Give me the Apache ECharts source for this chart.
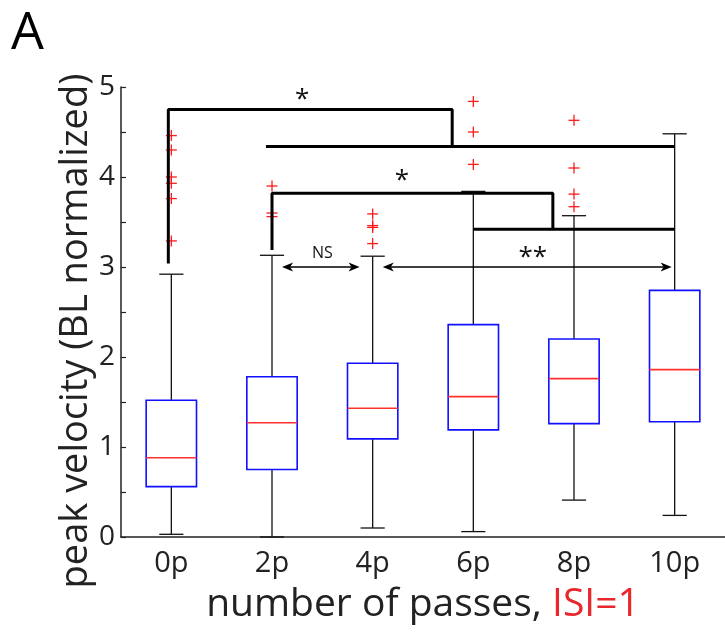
<!DOCTYPE html>
<html>
<head>
<meta charset="utf-8">
<script src="https://cdn.jsdelivr.net/npm/echarts@6/dist/echarts.min.js"></script>
<style>html,body{margin:0;padding:0;background:#fff}#c{width:725px;height:643px}</style>
</head>
<body>
<div id="c"></div>
<script>
// ---- data ----
const categories = ['0p', '2p', '4p', '6p', '8p', '10p'];
const boxMin    = [0.03, 0.00, 0.10, 0.06, 0.41, 0.24];
const boxQ1     = [0.56, 0.75, 1.09, 1.19, 1.26, 1.28];
const boxMedian = [0.88, 1.27, 1.43, 1.56, 1.76, 1.86];
const boxQ3     = [1.52, 1.78, 1.93, 2.36, 2.20, 2.74];
const boxMax    = [2.92, 3.13, 3.12, 3.84, 3.57, 4.48];
const outliers0 = [4.46, 4.30, 4.00, 3.93, 3.76, 3.29];
const outliers2 = [3.90, 3.60, 3.56];
const outliers4 = [3.59, 3.46, 3.44, 3.26];
const outliers6 = [4.84, 4.50, 4.14];
const outliers8 = [4.63, 4.10, 3.81, 3.67];
const outliers10 = [];
const yTickLabels = ['0', '1', '2', '3', '4', '5'];
// significance brackets (category index, value)
const bracketA = [[-0.03, 3.04], [-0.03, 4.75], [2.79, 4.75], [2.79, 4.34]];
const bracketB = [[0.94, 4.34], [5.0, 4.34]];
const bracketC = [[1.0, 3.19], [1.0, 3.82], [3.79, 3.82], [3.79, 3.42]];
const bracketD = [[3.0, 3.42], [5.0, 3.42]];
const arrowNS = [1.10, 1.87, 3.0];
const arrowSS = [2.10, 4.97, 3.0];
const annotations = [['*', 1.30, 4.86], ['*', 2.29, 3.96], ['NS', 1.50, 3.15], ['**', 3.59, 3.10]];

// ---- build ----
const outlierLists = [outliers0, outliers2, outliers4, outliers6, outliers8, outliers10];
const boxData = categories.map((c, i) => [i, boxMin[i], boxQ1[i], boxMedian[i], boxQ3[i], boxMax[i]]);
const outlierData = [];
outlierLists.forEach((arr, i) => arr.forEach(v => outlierData.push([i, v])));
const FONT = 'Open Sans';

const chart = echarts.init(document.getElementById('c'), null, {renderer: 'canvas'});

function bracketSeries(pts) {
  return {
    type: 'line', xAxisIndex: 1, data: pts, symbol: 'none', silent: true,
    lineStyle: {color: '#000', width: 3}, z: 5, animation: false
  };
}

const option = {
  animation: false,
  backgroundColor: '#fff',
  title: {text: 'A', left: 6, top: 3, textStyle: {fontFamily: FONT, fontSize: 52, fontWeight: 'normal', color: '#000'}},
  grid: {left: 121, right: 0, top: 87, bottom: 106},
  xAxis: [{
    type: 'category', data: categories, boundaryGap: true,
    axisLine: {onZero: false, lineStyle: {color: '#222', width: 1.5}},
    axisTick: {show: false},
    axisLabel: {fontFamily: FONT, fontSize: 29, color: '#222', margin: 12},
    name: '{a|number of passes, }{b|ISI=1}',
    nameLocation: 'middle', nameGap: 48,
    nameTextStyle: {rich: {
      a: {fontFamily: FONT, fontSize: 39, color: '#222'},
      b: {fontFamily: FONT, fontSize: 39, color: '#e8262b'}
    }}
  }, {
    type: 'value', min: -0.5, max: 5.5, show: false
  }],
  yAxis: {
    type: 'value', min: 0, max: 5, interval: 0.5,
    splitLine: {show: false},
    axisLine: {show: true, onZero: false, lineStyle: {color: '#222', width: 1.5}},
    axisTick: {show: true, inside: true, length: 5, lineStyle: {color: '#222', width: 1.2}},
    axisLabel: {fontFamily: FONT, fontSize: 28, color: '#222', margin: 6,
      formatter: v => (Math.abs(v - Math.round(v)) < 1e-6 ? yTickLabels[Math.round(v)] : '')},
    name: 'peak velocity (BL normalized)', nameLocation: 'middle', nameRotate: 90, nameGap: 26,
    nameMoveOverlap: false,
    nameTextStyle: {fontFamily: FONT, fontSize: 38, color: '#222', padding: [0, 38, 0, 0]}
  },
  series: [
    {
      type: 'custom', xAxisIndex: 1, data: boxData, z: 3,
      renderItem: (params, api) => {
        const x = api.value(0);
        const unit = api.size([1, 0])[0];
        const hw = unit * 0.25, cw = unit * 0.12;
        const pMin = api.coord([x, api.value(1)]);
        const pQ1 = api.coord([x, api.value(2)]);
        const pMed = api.coord([x, api.value(3)]);
        const pQ3 = api.coord([x, api.value(4)]);
        const pMax = api.coord([x, api.value(5)]);
        const blk = {stroke: '#111', lineWidth: 1.3};
        return {type: 'group', children: [
          {type: 'line', shape: {x1: pMin[0], y1: pMin[1], x2: pQ1[0], y2: pQ1[1]}, style: blk},
          {type: 'line', shape: {x1: pQ3[0], y1: pQ3[1], x2: pMax[0], y2: pMax[1]}, style: blk},
          {type: 'line', shape: {x1: pMin[0] - cw, y1: pMin[1], x2: pMin[0] + cw, y2: pMin[1]}, style: blk},
          {type: 'line', shape: {x1: pMax[0] - cw, y1: pMax[1], x2: pMax[0] + cw, y2: pMax[1]}, style: blk},
          {type: 'rect', shape: {x: pQ3[0] - hw, y: pQ3[1], width: hw * 2, height: pQ1[1] - pQ3[1]},
            style: {fill: 'none', stroke: '#1010ff', lineWidth: 1.6}},
          {type: 'line', shape: {x1: pMed[0] - hw, y1: pMed[1], x2: pMed[0] + hw, y2: pMed[1]},
            style: {stroke: '#ff3030', lineWidth: 1.6}}
        ]};
      }
    },
    {
      type: 'custom', xAxisIndex: 1, data: outlierData, z: 4,
      renderItem: (params, api) => {
        const p = api.coord([api.value(0), api.value(1)]);
        const s = 5.5;
        const st = {stroke: '#ff1a1a', lineWidth: 1.3};
        return {type: 'group', children: [
          {type: 'line', shape: {x1: p[0] - s, y1: p[1], x2: p[0] + s, y2: p[1]}, style: st},
          {type: 'line', shape: {x1: p[0], y1: p[1] - s, x2: p[0], y2: p[1] + s}, style: st}
        ]};
      }
    },
    bracketSeries(bracketA),
    bracketSeries(bracketB),
    bracketSeries(bracketC),
    bracketSeries(bracketD),
    {
      type: 'custom', xAxisIndex: 1, data: [arrowNS, arrowSS], z: 6,
      renderItem: (params, api) => {
        const a = api.coord([api.value(0), api.value(2)]);
        const b = api.coord([api.value(1), api.value(2)]);
        const L = 11, W = 4.5, N = 3;
        const st = {stroke: '#000', lineWidth: 1.3};
        return {type: 'group', children: [
          {type: 'line', shape: {x1: a[0] + 4, y1: a[1], x2: b[0] - 4, y2: b[1]}, style: st},
          {type: 'polygon', shape: {points: [[a[0], a[1]], [a[0] + L, a[1] - W], [a[0] + L - N, a[1]], [a[0] + L, a[1] + W]]}, style: {fill: '#000'}},
          {type: 'polygon', shape: {points: [[b[0], b[1]], [b[0] - L, b[1] - W], [b[0] - L + N, b[1]], [b[0] - L, b[1] + W]]}, style: {fill: '#000'}}
        ]};
      }
    },
    {
      type: 'custom', xAxisIndex: 1, z: 7,
      data: annotations.map(a => [a[1], a[2]]),
      renderItem: (params, api) => {
        const p = api.coord([api.value(0), api.value(1)]);
        const t = annotations[params.dataIndex][0];
        const isStar = t.indexOf('*') >= 0;
        return {type: 'text', x: p[0], y: p[1], style: {
          text: t, fill: '#111', align: 'center', verticalAlign: 'middle',
          font: (isStar ? '26px ' : '16px ') + FONT
        }};
      }
    }
  ]
};
chart.setOption(option);
</script>
</body>
</html>
